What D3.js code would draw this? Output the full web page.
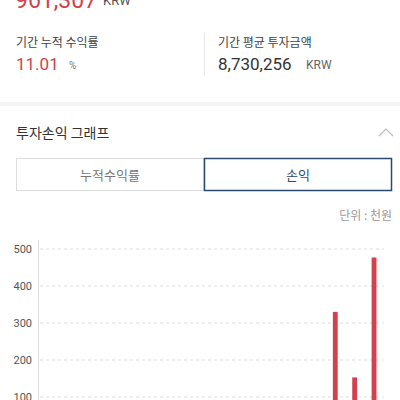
<!DOCTYPE html><html><head><meta charset="utf-8"><script src="https://cdn.jsdelivr.net/npm/d3@7"></script>
<style>body{margin:0;background:#fff;overflow:hidden}svg{display:block;font-family:Roboto,"Noto Sans CJK KR",sans-serif}</style></head><body>
<script>
const categories=d3.range(1,18).map(String);
const values=[0,0,0,0,0,0,0,0,0,0,0,0,0,0,330,153,477];
const yTicks=[100,200,300,400,500];
const W=400,H=400;
const svg=d3.select("body").append("svg").attr("width",W).attr("height",H);
const kr='"Noto Sans CJK KR",sans-serif';
const t=(x,y,s,size,fill,fam,anchor)=>svg.append("text").attr("x",x).attr("y",y).text(s).attr("font-size",size).attr("fill",fill).attr("font-family",fam||kr).attr("text-anchor",anchor||"start");
t(15,8,"961,307",23,"#d2414c","Roboto");
t(103,5,"KRW",13,"#555","Roboto");
t(16,47,"기간 누적 수익률",12,"#444");
t(16,70,"11.01",17,"#d2414c","Roboto");
t(69,69,"%",10,"#777","Roboto");
svg.append("line").attr("x1",204.5).attr("x2",204.5).attr("y1",33).attr("y2",76).attr("stroke","#e8e8e8");
t(218,47,"기간 평균 투자금액",12,"#444");
t(218,70,"8,730,256",17,"#333","Roboto");
t(306,69,"KRW",12,"#666","Roboto");
svg.append("rect").attr("x",0).attr("y",102).attr("width",W).attr("height",4).attr("fill","#f4f4f4");
t(16,138,"투자손익 그래프",14,"#333");
svg.append("path").attr("d","M379,136 L386,129 L393,136").attr("fill","none").attr("stroke","#bbb").attr("stroke-width",1.2);
svg.append("rect").attr("x",16.5).attr("y",158.5).attr("width",187).attr("height",32).attr("fill","#fff").attr("stroke","#ddd");
svg.append("rect").attr("x",204.5).attr("y",158.5).attr("width",187).attr("height",32).attr("fill","#fff").attr("stroke","#2c4a6e").attr("stroke-width",1.5);
t(110,180,"누적수익률",13,"#777",kr,"middle");
t(298,180,"손익",13,"#2c4a6e",kr,"middle");
t(392,220,"단위 : 천원",12,"#999",kr,"end");
const x=d3.scaleBand().domain(categories).range([47,391]).padding(0.75);
const y=d3.scaleLinear().domain([0,500]).range([434,249]);
svg.append("g").selectAll("line").data(yTicks).join("line").attr("x1",40).attr("x2",384).attr("y1",d=>y(d)).attr("y2",d=>y(d)).attr("stroke","#ddd").attr("stroke-dasharray","3,3");
const ax=svg.append("g").attr("transform","translate(38.5,0)").call(d3.axisLeft(y).tickValues(yTicks).tickSize(0).tickPadding(6));
ax.select(".domain").attr("stroke","#ddd").attr("d","M0,240V434");
ax.selectAll("text").attr("font-family","Roboto").attr("font-size",11).attr("fill","#555").attr("text-anchor","start").attr("x",-25);
svg.append("g").selectAll("rect").data(values).join("rect").attr("x",(d,i)=>x(categories[i])).attr("width",x.bandwidth()).attr("y",d=>y(d)).attr("height",d=>y(0)-y(d)).attr("fill","#d2414c");
</script></body></html>
